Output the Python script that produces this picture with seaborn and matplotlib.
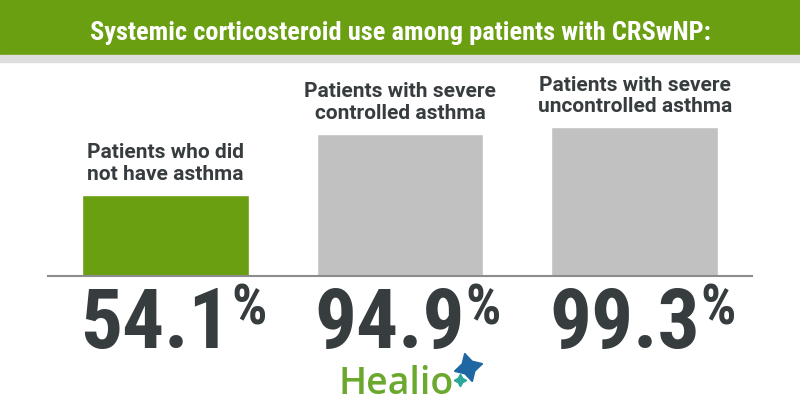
import matplotlib
matplotlib.use("Agg")
import matplotlib.pyplot as plt
from matplotlib.patches import Rectangle
from matplotlib.transforms import blended_transform_factory
import pandas as pd
import seaborn as sns

# chart data
categories = ["Patients who did\nnot have asthma",
              "Patients with severe\ncontrolled asthma",
              "Patients with severe\nuncontrolled asthma"]
values = [54.1, 94.9, 99.3]
value_labels = ["54.1", "94.9", "99.3"]
title = "Systemic corticosteroid use among patients with CRSwNP:"

green = "#6a9f12"
grey = "#c1c1c1"
dark = "#373c3e"
narrow = ["Roboto Condensed", "Barlow Condensed", "DejaVu Sans"]

sns.set_theme(style="white")
plt.rcParams["font.family"] = ["Roboto", "DejaVu Sans"]

df = pd.DataFrame({"group": categories, "pct": values})

fig = plt.figure(figsize=(8, 4.2), dpi=100)
ax = fig.add_axes([0.06, 0.343, 0.88, 0.514])
sns.barplot(data=df, x="group", y="pct", hue="group",
            palette=[green, grey, grey], width=0.71, saturation=1,
            legend=False, ax=ax)
ax.set_xlim(-0.5, 2.5)
ax.set_ylim(0, 144)
ax.set_xlabel("")
ax.set_ylabel("")
ax.set_xticks([])
ax.set_yticks([])
for side in ["top", "left", "right"]:
    ax.spines[side].set_visible(False)
ax.spines["bottom"].set_color("#8c8c8c")
ax.spines["bottom"].set_linewidth(1.5)

# labels above the bars
for i, (cat, v) in enumerate(zip(categories, values)):
    ax.annotate(cat, xy=(i, v), xytext=(0, 8), textcoords="offset points",
                ha="center", va="bottom", fontsize=15, fontweight="bold",
                color=dark, linespacing=1.15, annotation_clip=False)

# big percentages under the baseline
trans = blended_transform_factory(ax.transData, fig.transFigure)
for i, lab in enumerate(value_labels):
    t = ax.text(i - 0.365, 72 / 420, lab, transform=trans, ha="left",
                va="baseline", fontsize=60, fontweight="bold", color=dark,
                family=narrow, clip_on=False)
    ax.annotate("%", xy=(1, 1), xycoords=t, xytext=(0.5, 2),
                textcoords="offset points", ha="left", va="top",
                fontsize=40, fontweight="bold", color=dark, family=narrow)

# header band
fig.patches.append(Rectangle((0, 1 - 55 / 420), 1, 55 / 420,
                             transform=fig.transFigure, color=green, zorder=0))
fig.patches.append(Rectangle((0, 1 - 62 / 420), 1, 7 / 420,
                             transform=fig.transFigure, color="#dedede", zorder=0))
fig.text(0.5, 1 - 40 / 420, title, ha="center", va="baseline", color="white",
         fontsize=19, fontweight="bold", family=narrow)

# Healio logo
fig.text(396 / 800, 1 - 394 / 420, "Healio", ha="center", va="baseline",
         color="#6aa82e", fontsize=27, fontweight="semibold",
         family=["Open Sans", "DejaVu Sans"])
ax.plot([468 / 800], [1 - 367 / 420], marker=(4, 1, 15), ms=21,
        color="#1f67a3", transform=fig.transFigure, clip_on=False)
ax.plot([460 / 800], [1 - 380 / 420], marker=(4, 1, 0), ms=9,
        color="#2aa89c", transform=fig.transFigure, clip_on=False)

fig.savefig("out.png", dpi=100)
